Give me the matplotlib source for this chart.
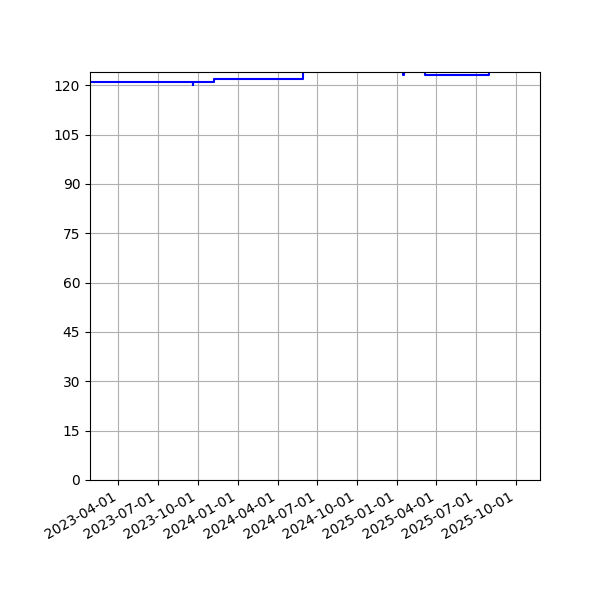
import matplotlib
matplotlib.use('Agg')
import matplotlib.pyplot as plt
import matplotlib.dates as mdates
import pandas as pd

# step change points (value holds until next date)
change_dates = ['2023-01-20', '2023-09-19', '2023-09-20', '2023-11-08', '2024-05-30',
                '2025-01-15', '2025-01-16', '2025-03-06', '2025-07-30', '2025-12-01']
values = [121, 120, 121, 122, 125, 123, 125, 123, 125, 125]
y_ticks = list(range(0, 121, 15))

dates = pd.to_datetime(change_dates)

fig, ax = plt.subplots(figsize=(6, 6), dpi=100)
ax.plot(dates, values, drawstyle='steps-post', color='blue', linewidth=1.5)

ax.set_xlim(pd.Timestamp('2023-01-26'), pd.Timestamp('2025-11-25'))
ax.set_ylim(0, 124)
ax.set_yticks(y_ticks)
ax.xaxis.set_major_locator(mdates.MonthLocator(bymonth=[1, 4, 7, 10]))
ax.xaxis.set_major_formatter(mdates.DateFormatter('%Y-%m-%d'))
ax.grid(True)

fig.autofmt_xdate()
fig.subplots_adjust(left=0.15, right=0.9, bottom=0.2, top=0.88)
fig.savefig('out.png', dpi=100)
